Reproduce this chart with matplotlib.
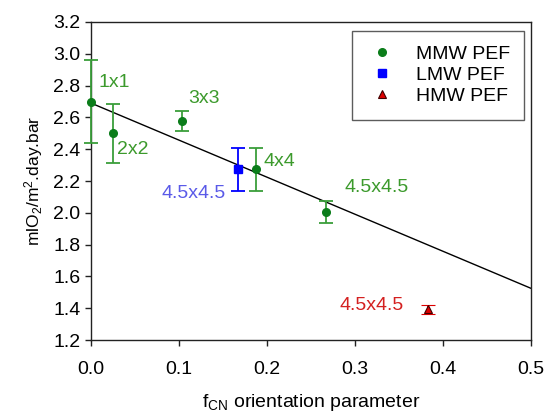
"""
O2 permeability vs. fCN orientation parameter for PEF samples
(MMW / LMW / HMW) with a linear fit through the MMW series.
"""

import matplotlib.pyplot as plt
from matplotlib.lines import Line2D

plt.rcParams["font.family"] = ["Liberation Sans", "DejaVu Sans"]
plt.rcParams["mathtext.fontset"] = "custom"
plt.rcParams["mathtext.rm"] = "Liberation Sans"
plt.rcParams["mathtext.it"] = "Liberation Sans"

# ---------------------------------------------------------------------------
# Data
# ---------------------------------------------------------------------------
MMW_FCN = [0.0, 0.025, 0.103, 0.187, 0.267]
MMW_PERM = [2.70, 2.50, 2.577, 2.275, 2.005]
MMW_ERR = [0.26, 0.185, 0.065, 0.135, 0.07]
MMW_LABELS = ["1x1", "2x2", "3x3", "4x4", "4.5x4.5"]

LMW_FCN = [0.167]
LMW_PERM = [2.275]
LMW_ERR = [0.135]
LMW_LABELS = ["4.5x4.5"]

HMW_FCN = [0.383]
HMW_PERM = [1.393]
HMW_ERR = [0.028]
HMW_LABELS = ["4.5x4.5"]

SERIES_NAMES = ["MMW PEF", "LMW PEF", "HMW PEF"]

# linear fit line (intercept, slope) and its x range
FIT_INTERCEPT = 2.69
FIT_SLOPE = -2.33
FIT_X = [0.0, 0.5]

X_TICKS = [0.0, 0.1, 0.2, 0.3, 0.4, 0.5]
Y_TICKS = [1.2, 1.4, 1.6, 1.8, 2.0, 2.2, 2.4, 2.6, 2.8, 3.0, 3.2]

# colours
GREEN_MK = "#0b7d1a"
GREEN_EB = "#3a9e3a"
GREEN_TX = "#3c9a2c"
BLUE_MK = "#0000ff"
BLUE_TX = "#5a5ae8"
RED_MK = "#dd0000"
RED_TX = "#d42020"

# where each label sits (data units)
MMW_TEXT_POS = [(0.008, 2.82), (0.029, 2.40), (0.111, 2.72), (0.196, 2.32), (0.288, 2.16)]
LMW_TEXT_POS = [(0.153, 2.12)]
HMW_TEXT_POS = [(0.355, 1.414)]


def main() -> None:
    fig = plt.figure(figsize=(5.54, 4.19), dpi=100)
    ax = fig.add_axes([0.1643, 0.1885, 0.7942, 0.759])

    # fit line
    fit_y = [FIT_INTERCEPT + FIT_SLOPE * x for x in FIT_X]
    ax.plot(FIT_X, fit_y, color="black", linewidth=1.0, zorder=2)

    # series
    ax.errorbar(MMW_FCN, MMW_PERM, yerr=MMW_ERR, fmt="o", color=GREEN_MK,
                ecolor=GREEN_EB, elinewidth=1.3, capsize=5, capthick=1.3,
                markersize=5.5, zorder=3, clip_on=False)
    ax.errorbar(LMW_FCN, LMW_PERM, yerr=LMW_ERR, fmt="s", color=BLUE_MK,
                ecolor=BLUE_MK, elinewidth=1.3, capsize=5, capthick=1.3,
                markersize=5.5, zorder=3)
    ax.errorbar(HMW_FCN, HMW_PERM, yerr=HMW_ERR, fmt="^", color=RED_MK,
                markeredgecolor="#400000", markeredgewidth=0.8,
                ecolor=RED_MK, elinewidth=1.3, capsize=5, capthick=1.3,
                markersize=5.5, zorder=3)

    # point labels
    for lab, (tx, ty) in zip(MMW_LABELS, MMW_TEXT_POS):
        ax.text(tx, ty, lab, color=GREEN_TX, fontsize=14, ha="left", va="center")
    for lab, (tx, ty) in zip(LMW_LABELS, LMW_TEXT_POS):
        ax.text(tx, ty, lab, color=BLUE_TX, fontsize=14, ha="right", va="center")
    for lab, (tx, ty) in zip(HMW_LABELS, HMW_TEXT_POS):
        ax.text(tx, ty, lab, color=RED_TX, fontsize=14, ha="right", va="center")

    ax.set_xlim(0.0, 0.5)
    ax.set_ylim(1.2, 3.2)
    ax.set_xticks(X_TICKS)
    ax.set_yticks(Y_TICKS)
    ax.set_xticklabels([f"{v:.1f}" for v in X_TICKS])
    ax.set_yticklabels([f"{v:.1f}" for v in Y_TICKS])
    ax.tick_params(direction="out", length=4, width=1.0, labelsize=14,
                   color="#222222")
    ax.tick_params(axis="x", pad=11)
    for sp in ax.spines.values():
        sp.set_linewidth(1.0)
        sp.set_color("#222222")

    ax.set_xlabel("f$_{CN}$ orientation parameter", fontsize=14, labelpad=10)
    ax.set_ylabel("mlO$_2$/m$^2$.day.bar", fontsize=12.5, labelpad=6)

    # legend with plain marker handles (no error bar glyphs)
    handles = [
        Line2D([], [], linestyle="none", marker="o", color=GREEN_MK, markersize=5.5),
        Line2D([], [], linestyle="none", marker="s", color=BLUE_MK, markersize=5.5),
        Line2D([], [], linestyle="none", marker="^", color=RED_MK,
               markeredgecolor="#400000", markeredgewidth=0.8, markersize=5.5),
    ]
    leg = ax.legend(handles, SERIES_NAMES,
                    loc="upper right", bbox_to_anchor=(0.985, 0.972),
                    fontsize=14, frameon=True, fancybox=False,
                    edgecolor="#333333", handlelength=1.6, handletextpad=0.95,
                    labelspacing=0.17, borderpad=0.75, borderaxespad=0.0)
    leg.get_frame().set_linewidth(1.0)

    fig.savefig("out.png", dpi=100)


if __name__ == "__main__":
    main()
